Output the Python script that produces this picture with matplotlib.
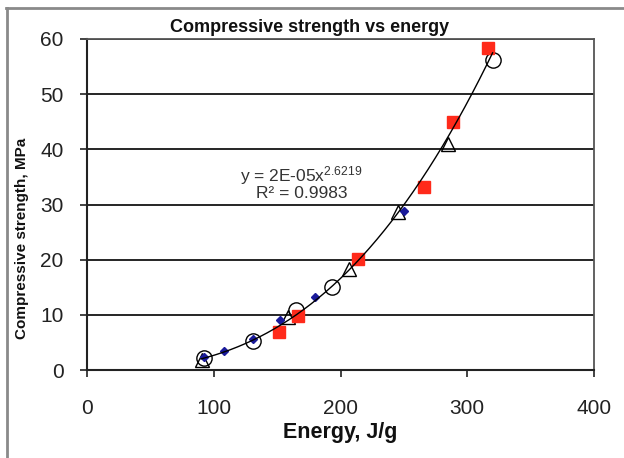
import numpy as np
import matplotlib
matplotlib.use("Agg")
import matplotlib.pyplot as plt
from matplotlib.lines import Line2D

plt.rcParams['font.family'] = ['Liberation Sans', 'DejaVu Sans']
plt.rcParams['mathtext.fontset'] = 'custom'
plt.rcParams['mathtext.rm'] = 'Liberation Sans'
plt.rcParams['mathtext.it'] = 'Liberation Sans'

# Data series (Energy J/g, Compressive strength MPa)
sq_x = [316, 289, 265.5, 214, 166.8, 151.8]
sq_y = [58.4, 45.0, 33.2, 20.1, 9.8, 6.8]

circ_x = [320.2, 193.1, 165, 130.8, 92.3]
circ_y = [56.2, 15.0, 10.9, 5.2, 2.1]

tri_x = [285.2, 245.7, 207, 158.9, 90.5]
tri_y = [40.9, 28.6, 18.3, 9.6, 1.8]

dia_x = [250.2, 180, 152.3, 131.3, 108.1, 92.3]
dia_y = [28.8, 13.2, 9.1, 5.6, 3.5, 2.3]

title = "Compressive strength vs energy"
xlabel = "Energy, J/g"
ylabel = "Compressive strength, MPa"
eq_text = "y = 2E-05x$^{\\mathrm{2.6219}}$"
r2_text = "R² = 0.9983"
xticks = [0, 100, 200, 300, 400]
yticks = [0, 10, 20, 30, 40, 50, 60]

W, H = 624, 458
fig = plt.figure(figsize=(W / 100, H / 100), dpi=100)
ax = fig.add_axes([87 / W, 1 - 370 / H, (594 - 87) / W, (370 - 39) / H])

# power-law trendline fitted to all points
all_x = np.array(sq_x + circ_x + tri_x + dia_x)
all_y = np.array(sq_y + circ_y + tri_y + dia_y)
b, loga = np.polyfit(np.log(all_x), np.log(all_y), 1)
xx = np.linspace(90, 320, 200)
ax.plot(xx, np.exp(loga) * xx ** b, color='black', lw=1.0, zorder=6)

ax.plot(circ_x, circ_y, 'o', ms=11, mfc='none', mec='black', mew=1.0, zorder=3)
ax.plot(tri_x, tri_y, '^', ms=10, mfc='none', mec='black', mew=1.0, zorder=3)
ax.plot(sq_x, sq_y, 's', ms=8.5, mfc='#ff2a1a', mec='#ff2a1a', zorder=4)
ax.plot(dia_x, dia_y, 'D', ms=4.5, mfc='#1a1a9a', mec='#1a1a9a', zorder=5)

ax.set_xlim(0, 400)
ax.set_ylim(0, 60)
ax.set_xticks(xticks)
ax.set_yticks(yticks)
ax.yaxis.grid(True, color='black', lw=1.2)
ax.set_axisbelow(True)
for s in ['left', 'bottom']:
    ax.spines[s].set_color('#222222')
    ax.spines[s].set_linewidth(1.5)
for s in ['top', 'right']:
    ax.spines[s].set_color('#555555')
    ax.spines[s].set_linewidth(1.3)
ax.tick_params(axis='both', direction='out', length=5, width=1.2, color='#222222',
               labelsize=15, labelcolor='#222222')
ax.tick_params(axis='x', pad=16)
ax.tick_params(axis='y', pad=12)

ax.set_xlabel(xlabel, fontsize=15.5, fontweight='bold', labelpad=3, color='#111111')
fig.text(22 / W, 1 - 238 / H, ylabel, rotation=90, ha='center', va='center',
         fontsize=11, fontweight='bold', color='#111111')
fig.text(310 / W, 1 - 28 / H, title, ha='center', va='center', fontsize=13,
         fontweight='bold', color='#111111')

fig.text(301 / W, 1 - 176 / H, eq_text, ha='center', va='center', fontsize=12.5,
         color='#333333')
fig.text(302 / W, 1 - 194 / H, r2_text, ha='center', va='center', fontsize=12.5,
         color='#333333')

# outer chart frame (grey)
fig.add_artist(Line2D([6 / W, 1], [1 - 7.5 / H, 1 - 7.5 / H], color='#8a8a8a', lw=2,
                      transform=fig.transFigure))
fig.add_artist(Line2D([7 / W, 7 / W], [0, 1 - 7.5 / H], color='#8a8a8a', lw=2,
                      transform=fig.transFigure))

fig.savefig('out.png', dpi=100)
